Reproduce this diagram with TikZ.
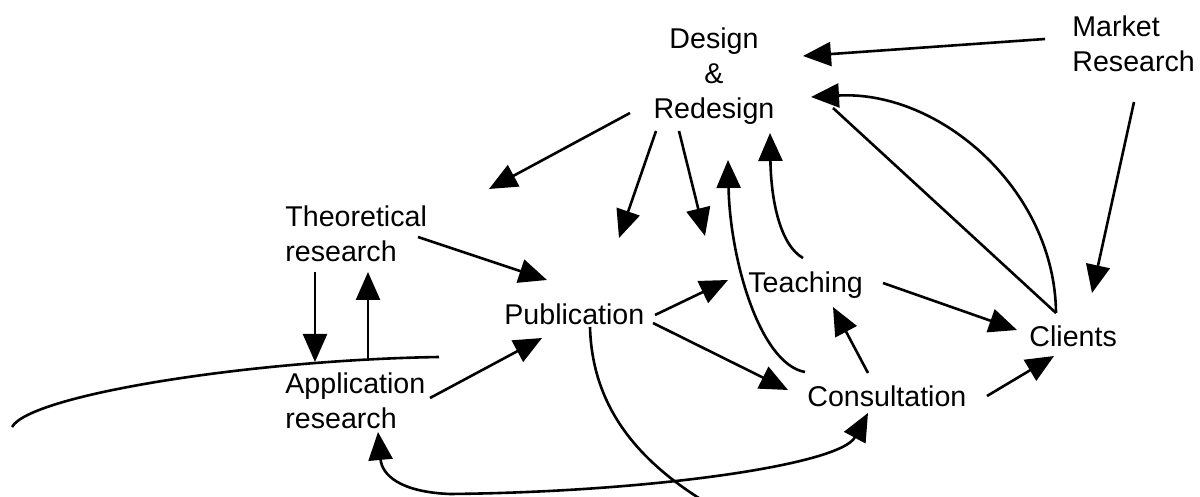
\documentclass[tikz,border=0pt]{standalone}
\usepackage{fontspec}
\setmainfont{Liberation Sans}
\usetikzlibrary{arrows.meta}

\tikzset{
  lbl/.style={inner sep=0pt, font=\fontsize{14.3}{17.5}\selectfont},
  conn/.style={line width=1.3pt},
}

\begin{document}
\begin{tikzpicture}[>={Triangle[length=14pt,width=12pt]}, x=0.5pt, y=-0.5pt]
\useasboundingbox (0,0) rectangle (1200,497);

% texts
\node[lbl,align=center,anchor=north] (design) at (714,27) {Design\\\&\\Redesign};
\node[lbl,align=left,anchor=north west] (market) at (1072,15) {Market\\Research};
\node[lbl,align=left,anchor=north west] (theo) at (285,205) {Theoretical\\research};
\node[lbl,align=left,anchor=north west] (app) at (285,372) {Application\\research};
\node[lbl,anchor=base west] (pub) at (504,325) {Publication};
\node[lbl,anchor=base west] (teach) at (748,293) {Teaching};
\node[lbl,anchor=base west] (clients) at (1029,347) {Clients};
\node[lbl,anchor=base west] (cons) at (807,407) {Consultation};

\coordinate (loopend) at (12,427);
\coordinate (offpage) at (702,500);

% out of Design & Redesign
\draw[conn,->] ([shift={(-84,86)}]design.north) -- ([shift={(204,-16)}]theo.north west);
\draw[conn,->] ([shift={(-58,104)}]design.north) -- ([shift={(115,-87)}]pub.base west);
\draw[conn,->] ([shift={(-35,104)}]design.north) -- ([shift={(-43,-57)}]teach.base west);

% into Design & Redesign
\draw[conn,->] ([shift={(-27,24)}]market.north west) -- ([shift={(89,29)}]design.north);
\draw[conn,->] ([shift={(55,-35)}]teach.base west) .. controls +(-23,-13) and +(1,67) .. ([shift={(56,106)}]design.north);
\draw[conn,->] ([shift={(-2,-35)}]cons.base west) .. controls +(-45,-8) and +(2,100) .. ([shift={(14,133)}]design.north);
\draw[conn,->] ([shift={(27,-34)}]clients.base west) .. controls +(-1,-123) and +(129,-7) .. ([shift={(97,70)}]design.north);
\draw[conn] ([shift={(27,-34)}]clients.base west) -- ([shift={(119,81)}]design.north);

\draw[conn,->] ([shift={(62,87)}]market.north west) -- ([shift={(63,-54)}]clients.base west);

% research
\draw[conn,->] ([shift={(30,67)}]theo.north west) -- ([shift={(30,-10)}]app.north west);
\draw[conn,->] ([shift={(83,-14)}]app.north west) -- ([shift={(83,67)}]theo.north west);
\draw[conn,->] ([shift={(133,32)}]theo.north west) -- ([shift={(43,-45)}]pub.base west);
\draw[conn,->] ([shift={(145,26)}]app.north west) -- ([shift={(38,13)}]pub.base west);
\draw[conn] ([shift={(154,-15)}]app.north west) .. controls +(-189,3) and +(18,-32) .. (loopend);

% publication
\draw[conn,->] ([shift={(151,-10)}]pub.base west) -- ([shift={(-20,-13)}]teach.base west);
\draw[conn,->] ([shift={(149,-2)}]pub.base west) -- ([shift={(-19,-17)}]cons.base west);
\draw[conn] ([shift={(86,2)}]pub.base west) .. controls +(2,73) and +(-72,-45) .. (offpage);

% teaching, consultation, clients
\draw[conn,->] ([shift={(135,-10)}]teach.base west) -- ([shift={(-12,-17)}]clients.base west);
\draw[conn,->] ([shift={(61,-34)}]cons.base west) -- ([shift={(85,14)}]teach.base west);
\draw[conn,->] ([shift={(180,-11)}]cons.base west) -- ([shift={(25,9)}]clients.base west);
\draw[conn,<->] ([shift={(93,60)}]app.north west) .. controls +(4,43) and +(-50,-2) .. ([shift={(165,122)}]app.north west)
  .. controls +(200,-2) and +(-28,52) .. ([shift={(61,6)}]cons.base west);
\end{tikzpicture}
\end{document}
